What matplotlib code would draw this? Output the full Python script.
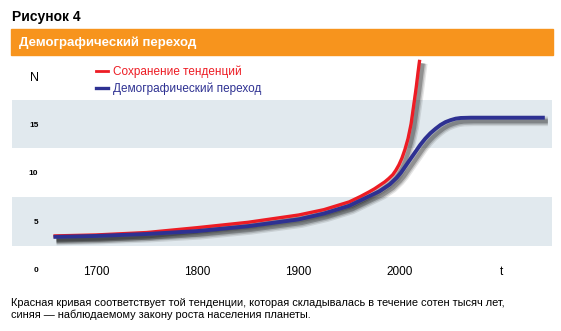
import matplotlib
matplotlib.use('Agg')
import matplotlib.pyplot as plt
import matplotlib.patheffects as pe
from matplotlib.lines import Line2D
from matplotlib.patches import Rectangle

# population curves (N vs year)
redYears = [1658, 1700, 1750, 1800, 1850, 1900, 1925, 1950, 1961, 1970, 1975, 1980, 1985, 1989, 1993, 1996, 1999,
            2002, 2005, 2008, 2011, 2014, 2016, 2018, 2019.5]
redN = [3.5, 3.6, 3.85, 4.35, 4.9, 5.65, 6.2, 7.0, 7.55, 8.05, 8.35, 8.7, 9.05, 9.4, 9.8, 10.25, 10.8,
        11.5, 12.4, 13.5, 15.0, 17.2, 18.7, 20.4, 21.6]
blueYears = [1658, 1700, 1750, 1800, 1850, 1900, 1925, 1950, 1961, 1980, 1990, 1997, 2001, 2005, 2010, 2015,
             2020, 2025, 2030, 2035, 2040, 2045, 2050, 2055, 2060, 2070, 2100, 2143]
blueN = [3.4, 3.5, 3.7, 4.0, 4.5, 5.2, 5.8, 6.6, 7.15, 8.1, 8.8, 9.5, 10.0, 10.6, 11.35, 12.1,
         12.85, 13.5, 14.05, 14.5, 14.9, 15.2, 15.4, 15.55, 15.62, 15.65, 15.65, 15.65]

xTicks = [1700, 1800, 1900, 2000, 2100]
xTickLabels = ['1700', '1800', '1900', '2000', 't']
yTicks = [0, 5, 10, 15]
bands = [(2.5, 7.5), (12.5, 17.5)]

seriesLabels = ['Сохранение тенденций', 'Демографический переход']
figTitle = 'Рисунок 4'
barTitle = 'Демографический переход'
caption = ('Красная кривая соответствует той тенденции, которая складывалась в течение сотен тысяч лет,\n'
           'синяя — наблюдаемому закону роста населения планеты.')

RED = '#ED1C24'
BLUE = '#2E3192'
ORANGE = '#F7941D'
BAND = '#E1E9EE'

W, H = 561, 331
fig = plt.figure(figsize=(W/100, H/100), dpi=100)
plt.rcParams['font.family'] = ['Liberation Sans', 'DejaVu Sans']

def px(x, y):
    return x/W, 1 - y/H

#header
fig.text(*px(12, 17), figTitle, fontsize=10, fontweight='bold', va='center', ha='left')
fig.patches.append(Rectangle(px(11, 55), 542/W, 26/H, transform=fig.transFigure, color=ORANGE, zorder=0))
fig.text(*px(19, 42.5), barTitle, fontsize=9.5, fontweight='bold', color='white', va='center', ha='left')

#plot area
ax = fig.add_axes([12/W, (H-290)/H, 540/W, 235/H])
ax.set_xlim(1617.1, 2150.1)
ax.set_ylim(-2.055, 22.09)
for s in ax.spines.values():
    s.set_visible(False)
for lo, hi in bands:
    ax.axhspan(lo, hi, color=BAND, lw=0, zorder=0)

def shadow():
    return [pe.SimpleLineShadow(offset=(2.2, -2.6), shadow_color='black', alpha=0.10, linewidth=7),
            pe.SimpleLineShadow(offset=(2.2, -2.6), shadow_color='black', alpha=0.15, linewidth=5),
            pe.SimpleLineShadow(offset=(2.2, -2.6), shadow_color='black', alpha=0.25, linewidth=3),
            pe.Normal()]

ax.plot(redYears, redN, color=RED, lw=2.4, solid_capstyle='butt', solid_joinstyle='round',
        path_effects=shadow(), zorder=3)
ax.plot(blueYears, blueN, color=BLUE, lw=2.8, solid_capstyle='butt', solid_joinstyle='round',
        path_effects=shadow(), zorder=4)

ax.set_yticks(yTicks)
ax.set_yticklabels([str(v) for v in yTicks], fontsize=6, fontweight='bold')
ax.tick_params(axis='y', length=0, pad=-19)
ax.set_xticks([])
for x, lab in zip(xTicks, xTickLabels):
    ax.text(x, -0.25, lab, fontsize=8.5, ha='center', va='center')
fig.text(*px(39, 78), 'N', fontsize=9, ha='right', va='center')

handles = [Line2D([], [], color=RED, lw=2), Line2D([], [], color=BLUE, lw=2.4)]
leg = fig.legend(handles, seriesLabels, loc='upper left', bbox_to_anchor=px(96, 65.5), frameon=False,
                 fontsize=8.5, handlelength=1.05, handletextpad=0.35, labelspacing=0.35, borderpad=0,
                 borderaxespad=0, labelcolor=[RED, BLUE])

fig.text(*px(11, 309), caption, fontsize=7.95, ha='left', va='center', linespacing=1.2)

fig.savefig('out.png', dpi=100)
